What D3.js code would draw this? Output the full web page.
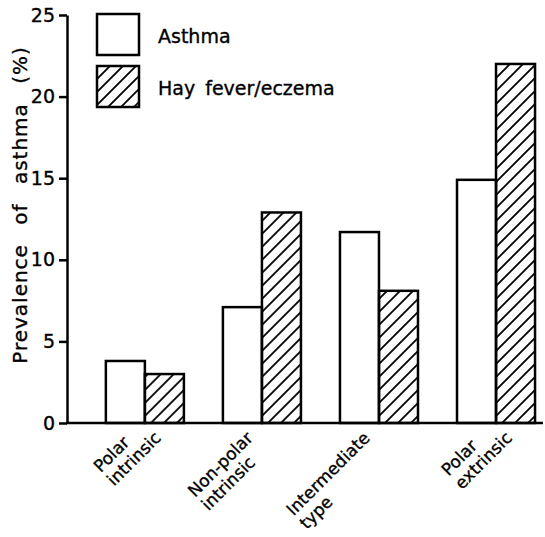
<!DOCTYPE html>
<html>
<head>
<meta charset="utf-8">
<script src="https://cdn.jsdelivr.net/npm/d3@7"></script>
<style>
  body { margin: 0; background: #fff; }
  svg text { font-family: "DejaVu Sans", sans-serif; fill: #000; stroke: #000; stroke-width: 0.35px; }
</style>
</head>
<body>
<svg id="svg1" width="545" height="537"></svg>
<script>
// data
var categories = [["Polar", "intrinsic"], ["Non-polar", "intrinsic"], ["Intermediate", "type"], ["Polar", "extrinsic"]];
var series = ["Asthma", "Hay fever/eczema"];
var asthma = [3.8, 7.1, 11.7, 14.9];
var hayFever = [3.0, 12.9, 8.1, 22.0];
var yTicks = [0, 5, 10, 15, 20, 25];

var svg = d3.select('#svg1');

var axisLeft = 67, axisRight = 543, axisBottom = 423, axisTop = 15;

var catNames = categories.map(function(d){ return d.join(" "); });

var scaleX = d3.scaleBand()
    .domain(catNames)
    .range([axisLeft, axisRight])
    .paddingInner(1/3)
    .paddingOuter(0.2)
    .align(0.83);

var scaleSub = d3.scaleBand()
    .domain(series)
    .range([0, scaleX.bandwidth()]);

var scaleY = d3.scaleLinear().domain([0, 25]).range([axisBottom, axisTop]);

// hatch pattern
var pat = svg.append("defs").append("pattern")
    .attr("id", "hatch")
    .attr("patternUnits", "userSpaceOnUse")
    .attr("width", 13).attr("height", 13);
pat.append("path")
    .attr("d", "M-2,2 l4,-4 M0,13 l13,-13 M11,15 l4,-4")
    .attr("stroke", "#000")
    .attr("stroke-width", 1.8);

var fills = ["#fff", "url(#hatch)"];

// bars
var rows = catNames.map(function(c, i){
  return [{cat: c, s: series[0], v: asthma[i]}, {cat: c, s: series[1], v: hayFever[i]}];
});

svg.selectAll(".grp")
    .data(rows)
    .enter()
    .append("g")
    .attr("class", "grp")
    .attr("transform", function(d){ return "translate(" + scaleX(d[0].cat) + ",0)"; })
  .selectAll("rect")
    .data(function(d){ return d; })
    .enter()
    .append("rect")
    .attr("x", function(d){ return scaleSub(d.s); })
    .attr("y", function(d){ return scaleY(d.v); })
    .attr("width", scaleSub.bandwidth())
    .attr("height", function(d){ return scaleY(0) - scaleY(d.v); })
    .attr("fill", function(d, i){ return fills[i]; })
    .attr("stroke", "#000")
    .attr("stroke-width", 2.5);

// y axis
var yAxis = svg.append("g")
    .attr("transform", "translate(" + axisLeft + ",0)")
    .call(d3.axisLeft(scaleY).tickValues(yTicks).tickSize(8).tickSizeOuter(0).tickPadding(4));
yAxis.select(".domain").attr("stroke-width", 2.5);
yAxis.selectAll(".tick line").attr("stroke-width", 2.5);
yAxis.selectAll(".tick text").attr("font-size", 19).attr("font-family", "DejaVu Sans");

// x axis line
svg.append("line")
    .attr("x1", axisLeft - 1).attr("x2", axisRight)
    .attr("y1", axisBottom).attr("y2", axisBottom)
    .attr("stroke", "#000").attr("stroke-width", 2.5);

// y title
svg.append("text")
    .attr("transform", "translate(27," + 205 + ") rotate(-90)")
    .attr("text-anchor", "middle")
    .attr("font-size", 20)
    .attr("letter-spacing", 1)
    .attr("word-spacing", 12)
    .text("Prevalence of asthma (%)");

// category labels: two lines, rotated 45deg, both lines start flush,
// the block placed so the end of its longest line sits just under the axis
var lineGap = 19, s = Math.SQRT1_2;

svg.selectAll(".xlab")
    .data(categories)
    .enter()
    .append("g")
    .attr("class", "xlab")
    .each(function(d, i){
      var g = d3.select(this);
      var texts = d.map(function(line, j){
        return g.append("text")
            .attr("font-size", 17)
            .attr("y", j * lineGap)
            .text(line);
      });
      var lens = texts.map(function(t){ return t.node().getComputedTextLength(); });
      var L = d3.max(lens);
      var k = lens.indexOf(L);
      texts.forEach(function(t){ t.attr("x", -L); });
      var c = scaleX(catNames[i]) + scaleX.bandwidth() / 2;
      var tx = c - 8 + 25 * k, ty = axisBottom + 16;
      // rotated point (0, k*lineGap) -> screen offset ((x+y)s, (y-x)s)
      var ox = tx - k * lineGap * s, oy = ty - k * lineGap * s;
      g.attr("transform", "translate(" + ox + "," + oy + ") rotate(-45)");
    });

// legend
var legend = svg.selectAll(".legend")
    .data(series)
    .enter()
    .append("g")
    .attr("class", "legend")
    .attr("transform", function(d, i){ return "translate(97," + (14 + i * 52) + ")"; });

legend.append("rect")
    .attr("width", 42).attr("height", 41)
    .attr("fill", function(d, i){ return fills[i]; })
    .attr("stroke", "#000")
    .attr("stroke-width", 2.5);

legend.append("text")
    .attr("x", 61).attr("y", 29)
    .attr("font-size", 19)
    .attr("word-spacing", 4)
    .text(function(d){ return d; });
</script>
</body>
</html>
